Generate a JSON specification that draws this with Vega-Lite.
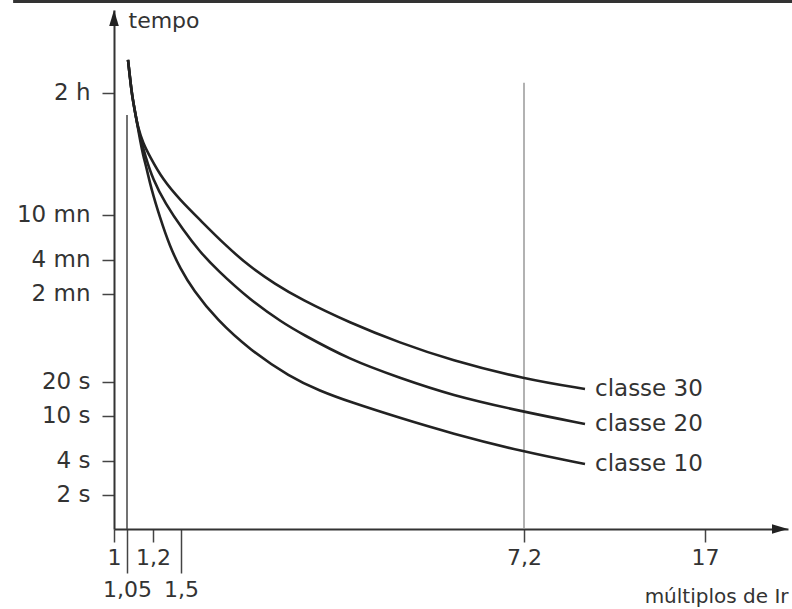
{
  "$schema": "https://vega.github.io/schema/vega-lite/v6.json",
  "width": 674,
  "height": 519,
  "autosize": {"type": "none"},
  "padding": {"left": 114, "top": 10, "right": 4, "bottom": 80},
  "background": "white",
  "config": {"view": {"stroke": null}, "font": "DejaVu Sans"},
  "datasets": {
    "curves": [
      {"classe": "classe 30", "m": 1.0558, "t": 14139},
      {"classe": "classe 30", "m": 1.0673, "t": 9799},
      {"classe": "classe 30", "m": 1.0788, "t": 6929},
      {"classe": "classe 30", "m": 1.0962, "t": 4900},
      {"classe": "classe 30", "m": 1.1135, "t": 3538},
      {"classe": "classe 30", "m": 1.1423, "t": 2606},
      {"classe": "classe 30", "m": 1.1827, "t": 1959},
      {"classe": "classe 30", "m": 1.3071, "t": 1226},
      {"classe": "classe 30", "m": 1.4893, "t": 815},
      {"classe": "classe 30", "m": 1.8157, "t": 542.6},
      {"classe": "classe 30", "m": 2.2312, "t": 326},
      {"classe": "classe 30", "m": 2.6466, "t": 208},
      {"classe": "classe 30", "m": 3.0621, "t": 147.3},
      {"classe": "classe 30", "m": 3.4776, "t": 108.5},
      {"classe": "classe 30", "m": 4.3085, "t": 66.5},
      {"classe": "classe 30", "m": 5.1394, "t": 44.3},
      {"classe": "classe 30", "m": 5.9703, "t": 31.3},
      {"classe": "classe 30", "m": 7.2, "t": 21.25},
      {"classe": "classe 30", "m": 10.503, "t": 17.34},
      {"classe": "classe 20", "m": 1.0558, "t": 14139},
      {"classe": "classe 20", "m": 1.0673, "t": 9799},
      {"classe": "classe 20", "m": 1.0788, "t": 6929},
      {"classe": "classe 20", "m": 1.0962, "t": 4900},
      {"classe": "classe 20", "m": 1.1135, "t": 3538},
      {"classe": "classe 20", "m": 1.1308, "t": 2770},
      {"classe": "classe 20", "m": 1.1538, "t": 2040},
      {"classe": "classe 20", "m": 1.2, "t": 1226},
      {"classe": "classe 20", "m": 1.3286, "t": 767},
      {"classe": "classe 20", "m": 1.5332, "t": 442.6},
      {"classe": "classe 20", "m": 1.8157, "t": 282.7},
      {"classe": "classe 20", "m": 2.0983, "t": 195.9},
      {"classe": "classe 20", "m": 2.6466, "t": 106.3},
      {"classe": "classe 20", "m": 3.195, "t": 66.5},
      {"classe": "classe 20", "m": 3.4776, "t": 54.26},
      {"classe": "classe 20", "m": 4.3085, "t": 31.3},
      {"classe": "classe 20", "m": 5.1394, "t": 21.69},
      {"classe": "classe 20", "m": 5.9703, "t": 15.34},
      {"classe": "classe 20", "m": 7.2, "t": 10.85},
      {"classe": "classe 20", "m": 10.503, "t": 8.5},
      {"classe": "classe 10", "m": 1.0558, "t": 14139},
      {"classe": "classe 10", "m": 1.0673, "t": 9799},
      {"classe": "classe 10", "m": 1.0788, "t": 6929},
      {"classe": "classe 10", "m": 1.0962, "t": 4900},
      {"classe": "classe 10", "m": 1.1135, "t": 3538},
      {"classe": "classe 10", "m": 1.125, "t": 2770},
      {"classe": "classe 10", "m": 1.1423, "t": 2040},
      {"classe": "classe 10", "m": 1.1654, "t": 1503},
      {"classe": "classe 10", "m": 1.1885, "t": 1041},
      {"classe": "classe 10", "m": 1.275, "t": 565.2},
      {"classe": "classe 10", "m": 1.3821, "t": 313},
      {"classe": "classe 10", "m": 1.4893, "t": 204},
      {"classe": "classe 10", "m": 1.6994, "t": 130.3},
      {"classe": "classe 10", "m": 2.0983, "t": 70.7},
      {"classe": "classe 10", "m": 2.6466, "t": 38.4},
      {"classe": "classe 10", "m": 3.3114, "t": 22.14},
      {"classe": "classe 10", "m": 3.8099, "t": 16.64},
      {"classe": "classe 10", "m": 4.3085, "t": 13.3},
      {"classe": "classe 10", "m": 5.1394, "t": 9.6},
      {"classe": "classe 10", "m": 5.9703, "t": 7.07},
      {"classe": "classe 10", "m": 7.2, "t": 4.8},
      {"classe": "classe 10", "m": 10.503, "t": 3.76}
    ],
    "labels": [
      {"classe": "classe 30", "m": 10.503, "t": 17.34},
      {"classe": "classe 20", "m": 10.503, "t": 8.5},
      {"classe": "classe 10", "m": 10.503, "t": 3.76}
    ],
    "refs": [
      {"m": 1.05, "t": 4600, "t2": 1},
      {"m": 7.2, "t": 8850, "t2": 1}
    ],
    "arrowUp": [{"m": 1, "t": 39000}],
    "arrowRight": [{"m": 20, "t": 1}],
    "border": [{"m": 0.612, "m2": 20.2, "t": 46400}]
  },
  "encoding": {
    "x": {
      "field": "m",
      "type": "quantitative",
      "scale": {"domain": [1, 1.05, 1.2, 1.5, 7.2, 17, 20], "range": [0, 13, 39, 67, 410, 591, 674], "nice": false, "zero": false},
      "axis": {
        "values": [1, 1.05, 1.2, 1.5, 7.2, 17],
        "labelExpr": "replace(toString(datum.value), '.', ',')",
        "grid": false,
        "title": "múltiplos de Ir",
        "titleX": 674,
        "titleY": 67,
        "titleAlign": "right",
        "titleAnchor": null,
        "titleBaseline": "middle",
        "titleFontSize": 20,
        "titleFontWeight": "normal",
        "titleColor": "#333",
        "labelFontSize": 22,
        "labelColor": "#333",
        "labelFlush": false,
        "labelOverlap": false,
        "labelBound": false,
        "tickSize": {"condition": {"test": "datum.value == 1.05 || datum.value == 1.5", "value": 44}, "value": 13},
        "labelPadding": {"condition": {"test": "datum.value == 1.05 || datum.value == 1.5", "value": 6}, "value": 5},
        "tickColor": "#444",
        "tickWidth": 1.5,
        "domainColor": "#333",
        "domainWidth": 2
      }
    },
    "y": {
      "field": "t",
      "type": "quantitative",
      "scale": {"type": "log", "domain": [1, 39000], "nice": false},
      "axis": {
        "values": [2, 4, 10, 20, 120, 240, 600, 7200],
        "labelExpr": "datum.value == 7200 ? '2 h' : datum.value >= 60 ? (datum.value / 60) + ' mn' : datum.value + ' s'",
        "grid": false,
        "title": "tempo",
        "titleAngle": 0,
        "titleX": 14,
        "titleY": 10,
        "titleAlign": "left",
        "titleAnchor": null,
        "titleBaseline": "middle",
        "titleFontSize": 22,
        "titleFontWeight": "normal",
        "titleColor": "#333",
        "labelFontSize": 23,
        "labelColor": "#333",
        "labelFlush": false,
        "labelOverlap": false,
        "labelBound": false,
        "tickSize": 12,
        "labelPadding": 12,
        "tickColor": "#444",
        "tickWidth": 1.5,
        "domainColor": "#333",
        "domainWidth": 2
      }
    }
  },
  "layer": [
    {
      "data": {"name": "border"},
      "mark": {"type": "rule", "color": "#333", "strokeWidth": 3},
      "encoding": {"x2": {"field": "m2"}}
    },
    {
      "data": {"name": "refs"},
      "mark": {"type": "rule", "strokeWidth": 1.5},
      "encoding": {
        "y2": {"field": "t2"},
        "color": {"condition": {"test": "datum.m == 7.2", "value": "#999"}, "value": "#444"}
      }
    },
    {
      "data": {"name": "curves"},
      "mark": {"type": "line", "interpolate": "basis", "color": "#222", "strokeWidth": 2.6},
      "encoding": {"detail": {"field": "classe", "type": "nominal"}}
    },
    {
      "data": {"name": "labels"},
      "mark": {"type": "text", "align": "left", "baseline": "middle", "dx": 10, "fontSize": 23, "color": "#333"},
      "encoding": {"text": {"field": "classe", "type": "nominal"}}
    },
    {
      "data": {"name": "arrowUp"},
      "mark": {"type": "point", "shape": "M0,0L0.6,2L-0.6,2Z", "size": 256, "filled": true, "color": "#222", "opacity": 1}
    },
    {
      "data": {"name": "arrowRight"},
      "mark": {"type": "point", "shape": "M0,0L-2,0.6L-2,-0.6Z", "size": 256, "filled": true, "color": "#222", "opacity": 1}
    }
  ]
}
